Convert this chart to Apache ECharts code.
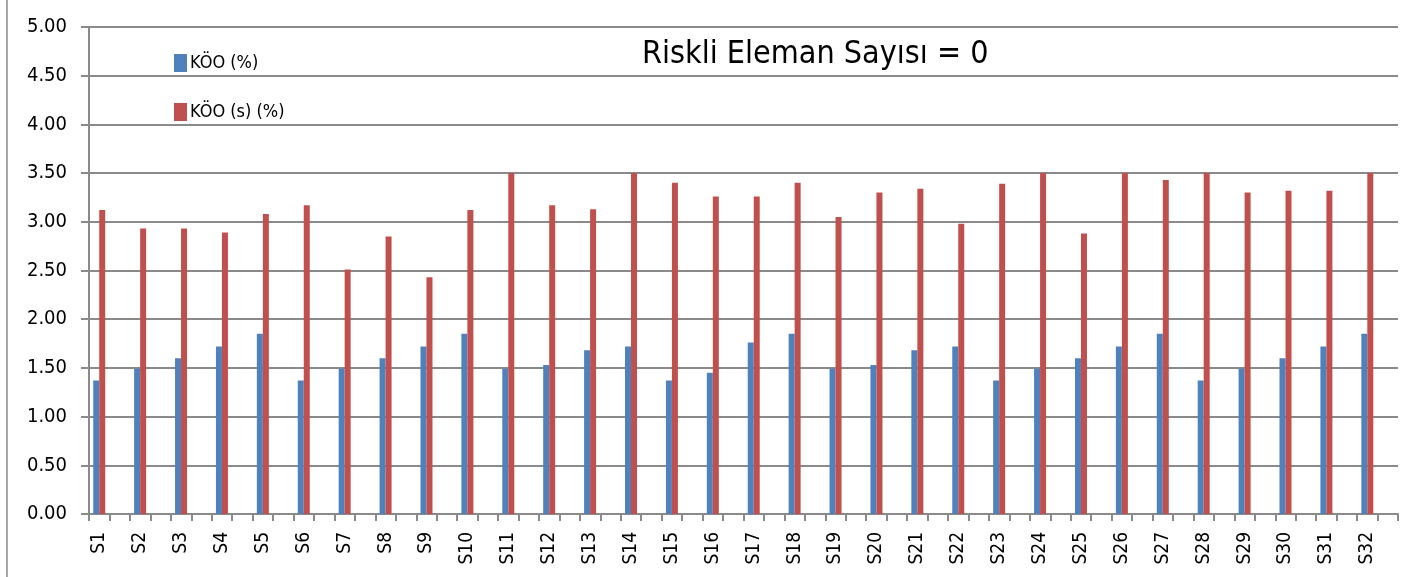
<!DOCTYPE html>
<html>
<head>
<meta charset="utf-8">
<script src="https://cdn.jsdelivr.net/npm/echarts@6/dist/echarts.min.js"></script>
<style>html,body{margin:0;padding:0;background:#fff}#c{width:1410px;height:577px}</style>
</head>
<body>
<div id="c"></div>
<script>
const categories = ['S1','S2','S3','S4','S5','S6','S7','S8','S9','S10','S11','S12','S13','S14','S15','S16','S17','S18','S19','S20','S21','S22','S23','S24','S25','S26','S27','S28','S29','S30','S31','S32'];
const kooValues = [1.37,1.49,1.60,1.72,1.85,1.37,1.49,1.60,1.72,1.85,1.49,1.53,1.68,1.72,1.37,1.45,1.76,1.85,1.49,1.53,1.68,1.72,1.37,1.49,1.60,1.72,1.85,1.37,1.49,1.60,1.72,1.85];
const kooSValues = [3.12,2.93,2.93,2.89,3.08,3.17,2.51,2.85,2.43,3.12,3.50,3.17,3.13,3.50,3.40,3.26,3.26,3.40,3.05,3.30,3.34,2.98,3.39,3.50,2.88,3.50,3.43,3.50,3.30,3.32,3.32,3.50];
const seriesNames = ['KÖO (%)','KÖO (s) (%)'];
const titleText = 'Riskli Eleman Sayısı = 0';

// Excel layout: each category is followed by an empty slot
const slots = [], s1 = [], s2 = [];
categories.forEach((c, i) => {
  slots.push(c); s1.push(kooValues[i]); s2.push(kooSValues[i]);
  slots.push(' '); s1.push('-'); s2.push('-');
});

const FONT = "'Liberation Sans Narrow','Arial Narrow','DejaVu Sans Condensed',sans-serif";
const GRID = '#8a8a8a';
const chart = echarts.init(document.getElementById('c'), null, {renderer: 'canvas'});
chart.setOption({
  animation: false,
  backgroundColor: '#fff',
  textStyle: {fontFamily: FONT},
  title: {
    text: titleText, left: 637, top: 34,
    textStyle: {fontFamily: FONT, fontSize: 32, fontWeight: 'normal', color: '#000'}
  },
  legend: {
    orient: 'vertical', left: 169, top: 49, itemWidth: 13, itemHeight: 18, itemGap: 31,
    icon: 'rect',
    textStyle: {fontFamily: FONT, fontSize: 18, color: '#000', padding: [0,0,0,-2]},
    data: seriesNames
  },
  grid: {left: 89, right: 12, top: 27, bottom: 63, containLabel: false},
  xAxis: {
    type: 'category', data: slots, boundaryGap: true,
    axisLine: {lineStyle: {color: GRID, width: 2}},
    axisTick: {show: true, interval: 0, length: 7, lineStyle: {color: GRID, width: 2}},
    axisLabel: {interval: 0, rotate: 90, fontSize: 19, color: '#000', margin: 18, fontFamily: FONT}
  },
  yAxis: {
    type: 'value', min: 0, max: 5, interval: 0.5,
    axisLine: {show: true, lineStyle: {color: GRID, width: 2}},
    axisTick: {show: true, length: 8, lineStyle: {color: GRID, width: 2}},
    axisLabel: {fontSize: 20, color: '#000', margin: 22, fontFamily: FONT, formatter: v => v.toFixed(2)},
    splitLine: {show: true, lineStyle: {color: GRID, width: 2}}
  },
  series: [
    {name: seriesNames[0], type: 'bar', data: s1, barWidth: 6, barGap: '0%', itemStyle: {color: '#4f81bd'}},
    {name: seriesNames[1], type: 'bar', data: s2, barWidth: 6, barGap: '0%', itemStyle: {color: '#c0504d'}}
  ],
  graphic: [{
    type: 'line', shape: {x1: 7, y1: 0, x2: 7, y2: 577},
    style: {stroke: GRID, lineWidth: 1.5}
  }]
});
</script>
</body>
</html>
